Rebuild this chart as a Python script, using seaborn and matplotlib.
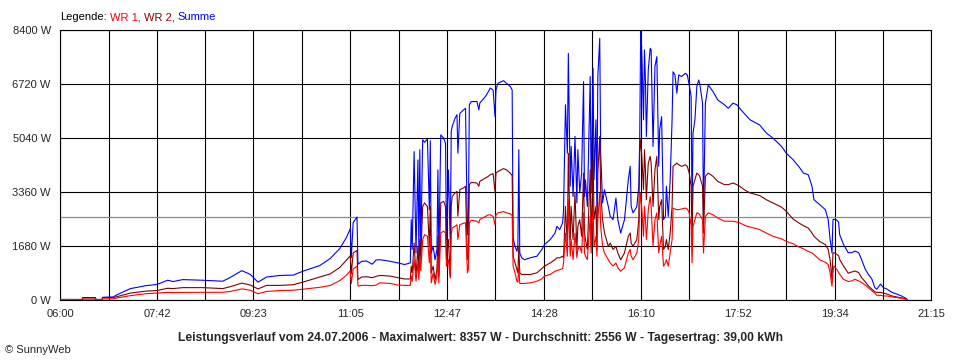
import matplotlib
matplotlib.use("Agg")
import matplotlib.pyplot as plt
import seaborn as sns
import pandas as pd

# Leistungsverlauf 24.07.2006 (W)
zeit = [
    # morning
    "06:00", "06:23", "06:24", "06:37", "06:38", "06:44", "06:45", "06:56", "07:00", "07:14",
    "07:30", "07:42", "07:53", "07:59", "08:09", "08:30", "08:51", "08:59", "09:11", "09:20",
    "09:28", "09:37", "09:51", "10:05", "10:15", "10:33", "10:44", "10:54", "11:01", "11:05",
    "11:06", "11:08", "11:12", "11:13", "11:17", "11:22", "11:28", "11:32",
    # clouds around noon
    "11:36", "11:47", "11:55", "12:02", "12:08", "12:09", "12:10", "12:12", "12:14", "12:16",
    "12:17", "12:18", "12:19", "12:21", "12:23", "12:26", "12:28", "12:29", "12:30", "12:32",
    "12:34", "12:36", "12:37", "12:38", "12:40", "12:43", "12:45", "12:46", "12:48", "12:50",
    "12:51", "12:52", "12:55", "12:57", "12:58", "13:00", "13:04", "13:06", "13:08", "13:09",
    "13:10", "13:12", "13:18", "13:20", "13:21", "13:27", "13:30",
    # early afternoon
    "13:32", "13:35", "13:37", "13:38", "13:40", "13:46", "13:49", "13:53", "13:55", "13:56",
    "13:58", "14:00", "14:01", "14:02", "14:03", "14:05", "14:08", "14:14", "14:21", "14:26",
    "14:29", "14:35", "14:40", "14:42", "14:45", "14:48",
    # spiky afternoon
    "14:49", "14:51", "14:53", "14:54", "14:56", "14:57", "14:59", "15:01", "15:03", "15:04",
    "15:06", "15:08", "15:10", "15:11", "15:12", "15:14", "15:17", "15:18", "15:20", "15:21",
    "15:23", "15:24", "15:25", "15:27", "15:28", "15:30", "15:32", "15:36", "15:38", "15:41",
    "15:44", "15:46", "15:49", "15:53", "15:57", "15:59", "16:00", "16:02", "16:06", "16:08",
    "16:09", "16:10", "16:11", "16:13", "16:14", "16:15", "16:16", "16:17", "16:18", "16:20",
    "16:21", "16:23", "16:25", "16:27", "16:29", "16:30", "16:32", "16:34", "16:36", "16:37",
    "16:39", "16:41", "16:43", "16:44", "16:46", "16:48", "16:50", "16:53", "16:57", "16:59",
    "17:01", "17:03", "17:04", "17:05", "17:07", "17:09", "17:11", "17:12", "17:15", "17:16",
    "17:18", "17:21", "17:26", "17:31", "17:38", "17:42", "17:47", "17:51", "17:54", "18:00",
    "18:05", "18:15", "18:22", "18:29", "18:38", "18:43", "18:50", "18:56", "19:01", "19:06",
    "19:10", "19:12", "19:18", "19:24", "19:27", "19:29", "19:31", "19:32",
    # evening
    "19:33", "19:36", "19:38", "19:39", "19:43", "19:48", "19:52", "19:55", "19:59", "20:02",
    "20:06", "20:09", "20:13", "20:16", "20:18", "20:22", "20:25", "20:29", "20:34", "20:39",
    "20:44", "20:49", "20:50",
]

summe = [
    0, 0, 60, 60, 0, 0, 70, 80, 150, 340,
    430, 470, 600, 560, 620, 600, 570, 690, 900, 780,
    540, 700, 750, 760, 880, 1060, 1280, 1590, 1940, 2210,
    1300, 2400, 2570, 1100, 1190, 1200, 1100, 1230,
    1240, 1190, 1140, 1090, 1140, 2490, 1560, 4610, 1450, 4350,
    1450, 4670, 1500, 4980, 4900, 5000, 2800, 4950, 1450, 1660,
    1240, 1560, 4040, 1350, 5130, 5030, 4870, 1870, 4040, 1710,
    5240, 5390, 5650, 5760, 4560, 5800, 5910, 5960, 2020, 2380,
    6070, 6170, 6170, 5910, 6120, 6330, 6480,
    6590, 6530, 5700, 6530, 6740, 6820, 6740, 6640, 6530, 1920,
    1660, 1500, 1660, 4670, 1450, 1300, 1240, 1300, 1350, 1550,
    1710, 1870, 2070, 2280, 2180, 2390,
    2800, 6070, 4560, 7670, 3530, 4770, 3210, 5080, 3010, 4670,
    3320, 3940, 6790, 3210, 3730, 2900, 6950, 3320, 7210, 3730,
    5600, 2900, 6950, 8140, 4560, 3010, 3420, 2900, 2590, 2490,
    3160, 2490, 2070, 2490, 3730, 4150, 2900, 2700, 2900, 3530,
    4980, 8357, 7880, 5600, 7780, 6840, 5080, 6120, 7160, 7830,
    7780, 4770, 7260, 7570, 4150, 5290, 5700, 2490, 2590, 3530,
    2590, 3730, 5600, 7100, 7000, 6430, 7000, 6950, 7050, 7000,
    6690, 6330, 2700, 5190, 5600, 6640, 6840, 6740, 6120, 2590,
    6120, 6690, 6480, 6220, 6070, 5960, 6120, 6070, 5960, 5760,
    5600, 5440, 5190, 5030, 4770, 4560, 4360, 4150, 3940, 3890,
    3530, 3110, 2960, 2800, 2490, 1870, 1450, 2490,
    2500, 2480, 2400, 2030, 1720, 1460, 1460, 1510, 1460, 1250,
    940, 790, 630, 370, 320, 480, 370, 320, 220, 170,
    110, 30, 0,
]

wr2 = [
    0, 0, 50, 50, 0, 0, 60, 60, 90, 200,
    260, 280, 350, 340, 370, 370, 340, 400, 510, 450,
    330, 440, 440, 460, 540, 700, 800, 1000, 1230, 1370,
    800, 1450, 1530, 620, 700, 710, 680, 720,
    750, 730, 680, 640, 640, 1040, 830, 1760, 730, 1660,
    830, 1870, 1250, 2900, 3010, 2900, 1660, 2900, 830, 1040,
    620, 930, 1970, 730, 3010, 3060, 2900, 1240, 1870, 730,
    2900, 3210, 3320, 3370, 2600, 3420, 3480, 3530, 1240, 1350,
    3580, 3650, 3630, 3530, 3680, 3790, 3840,
    3890, 3920, 3370, 3940, 3990, 4080, 4040, 3940, 3860, 1350,
    1140, 930, 830, 1660, 830, 780, 780, 780, 830, 960,
    1040, 1140, 1240, 1300, 1300, 1350,
    1300, 2900, 1660, 4560, 1870, 2900, 1870, 3320, 1560, 2280,
    2490, 1970, 3940, 2070, 1870, 1560, 4040, 1660, 4360, 2490,
    2900, 1560, 3940, 5080, 3320, 2490, 2070, 1660, 1760, 1560,
    1660, 1450, 1240, 1450, 1970, 2070, 1760, 1660, 1870, 2490,
    4560, 4980, 4560, 3420, 4670, 4040, 3110, 3730, 4250, 4460,
    4250, 2900, 4040, 4460, 2490, 2900, 3110, 1560, 1660, 1870,
    1560, 2070, 2900, 4150, 4200, 4250, 4200, 4150, 4200, 4150,
    3940, 3530, 1870, 3530, 3730, 3940, 3890, 3840, 3530, 2070,
    3840, 3940, 3840, 3680, 3580, 3580, 3630, 3580, 3530, 3400,
    3320, 3240, 3110, 3010, 2880, 2750, 2510, 2390, 2300, 2230,
    2070, 1970, 1810, 1710, 1560, 1240, 620, 1450,
    1460, 1410, 1360, 1250, 1050, 820, 860, 890, 840, 680,
    550, 430, 320, 240, 220, 220, 200, 170, 110, 80,
    50, 10, 0,
]

wr1 = [
    0, 0, 10, 10, 0, 0, 20, 20, 50, 120,
    180, 200, 220, 215, 220, 225, 225, 250, 330, 290,
    180, 250, 280, 290, 320, 380, 440, 590, 760, 900,
    500, 950, 1040, 420, 440, 440, 430, 450,
    520, 500, 450, 440, 440, 730, 570, 1240, 570, 1140,
    620, 1350, 900, 1870, 2020, 1970, 1140, 1970, 520, 830,
    470, 730, 1350, 520, 2070, 2130, 2070, 1040, 1240, 670,
    2000, 2230, 2280, 2330, 1870, 2330, 2380, 2390, 830, 930,
    2390, 2470, 2440, 2390, 2490, 2590, 2640,
    2640, 2590, 2330, 2640, 2700, 2740, 2700, 2670, 2620, 1040,
    830, 570, 540, 1040, 500, 500, 500, 520, 570, 640,
    730, 780, 880, 900, 930, 960,
    1140, 2070, 1350, 3110, 1350, 1870, 1240, 2070, 1300, 1560,
    1660, 1450, 2700, 1450, 1350, 1240, 2590, 1450, 2900, 1660,
    1970, 1350, 2490, 3320, 2280, 1660, 1450, 1240, 1140, 1040,
    1140, 990, 880, 990, 1450, 1560, 1350, 1240, 1450, 1870,
    2900, 3320, 2900, 1970, 2900, 2490, 1870, 2280, 2800, 3210,
    2900, 1660, 2490, 2700, 1450, 1660, 1970, 1040, 1140, 1240,
    1040, 1450, 1870, 2850, 2820, 2800, 2800, 2820, 2850, 2820,
    2700, 2280, 1140, 2280, 2490, 2700, 2680, 2640, 2490, 1450,
    2590, 2700, 2640, 2540, 2440, 2440, 2440, 2410, 2390, 2300,
    2260, 2180, 2070, 1970, 1890, 1810, 1740, 1640, 1580, 1500,
    1450, 1400, 1240, 1160, 1090, 830, 410, 830,
    1050, 940, 840, 790, 630, 560, 580, 630, 580, 530,
    450, 370, 270, 200, 130, 130, 110, 110, 80, 60,
    40, 10, 0,
]

x_labels = ["06:00", "07:42", "09:23", "11:05", "12:47", "14:28", "16:10", "17:52", "19:34", "21:15"]
y_ticks = [0, 1680, 3360, 5040, 6720, 8400]
durchschnitt = 2556
titel = ("Leistungsverlauf vom 24.07.2006 - Maximalwert: 8357 W - "
         "Durchschnitt: 2556 W - Tagesertrag: 39,00 kWh")

assert len(zeit) == len(summe) == len(wr2) == len(wr1)


def minuten(s):
    h, m = s.split(":")
    return int(h) * 60 + int(m)


df = pd.DataFrame({"zeit": [minuten(t) for t in zeit],
                   "WR 1": wr1, "WR 2": wr2, "Summe": summe})

sns.set_style("white")
plt.rcParams["font.family"] = ["Liberation Sans", "DejaVu Sans"]

fig = plt.figure(figsize=(9.6, 3.6), dpi=100)
ax = fig.add_axes([60 / 960, 60.5 / 360, 871 / 960, 269.5 / 360])

major = [minuten(t) for t in x_labels]
minor = [(a + b) / 2 for a, b in zip(major[:-1], major[1:])]

ax.axhline(durchschnitt, color="#8c8c8c", lw=0.9, zorder=1)

for col, farbe in [("Summe", "#0000ff"), ("WR 2", "#800000"), ("WR 1", "#ff0000")]:
    sns.lineplot(data=df, x="zeit", y=col, color=farbe, linewidth=0.8,
                 estimator=None, sort=False, ax=ax, zorder=3)

ax.set_xlim(major[0], major[-1])
ax.set_ylim(0, 8400)
ax.set_xticks(major)
ax.set_xticklabels(x_labels)
ax.set_xticks(minor, minor=True)
ax.set_yticks(y_ticks)
ax.set_yticklabels([f"{v} W" for v in y_ticks])
ax.set_xlabel("")
ax.set_ylabel("")
ax.grid(which="both", color="black", linewidth=0.8, zorder=0)
ax.set_axisbelow(True)
ax.tick_params(axis="both", which="both", direction="out", length=3.6, width=0.8,
               color="black", labelsize=8, pad=3)
for sp in ax.spines.values():
    sp.set_color("black")
    sp.set_linewidth(0.8)

# legend as coloured text
r = fig.canvas.get_renderer()
xpos = 60
for s, farbe in [("Legende:", "black"), ("WR 1,", "#ff0000"), ("WR 2,", "#800000"), ("Summe", "#0000ff")]:
    t = fig.text(xpos / 960, 1 - 17 / 360, s, color=farbe, fontsize=8, va="center", ha="left")
    bb = t.get_window_extent(r)
    xpos = bb.x1 + 3

fig.text(0.5, 1 - 338 / 360, titel, ha="center", va="center", fontsize=8.7, fontweight="bold")
fig.text(5 / 960, 1 - 350 / 360, "© SunnyWeb", ha="left", va="center", fontsize=8)

fig.savefig("out.png", dpi=100)
